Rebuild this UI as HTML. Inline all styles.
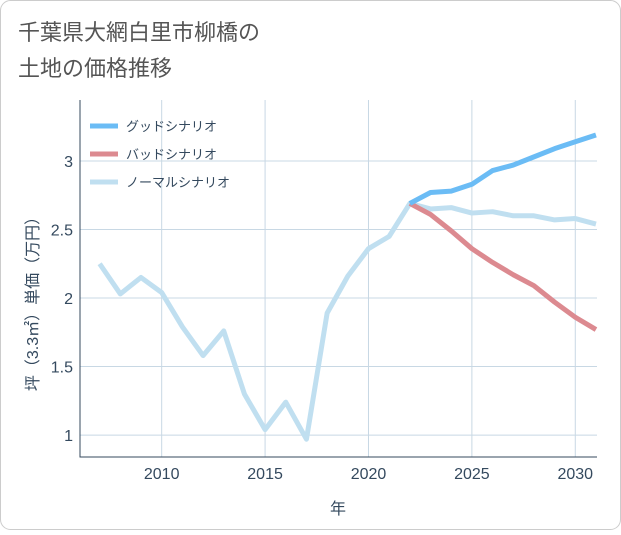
<!DOCTYPE html>
<html><head><meta charset="utf-8">
<style>
body{margin:0;background:#fff;}
#wrap{position:relative;width:621px;height:530px;font-family:"Liberation Sans","Noto Sans CJK JP",sans-serif;}
</style></head>
<body>
<div id="wrap">
<svg id="chart" width="621" height="530" xmlns="http://www.w3.org/2000/svg">
<rect x="0.5" y="0.5" width="620" height="529" rx="10" fill="#fff" stroke="#ccc"/>
<text x="18" y="40" font-size="22" fill="#555">千葉県大網白里市柳橋の</text>
<text x="18" y="76" font-size="22" fill="#555">土地の価格推移</text>
<g id="grid"></g>
<g id="series"></g>
<g id="legend"></g>
<text x="338" y="514" font-size="16" fill="#34495e" text-anchor="middle">年</text>
<text transform="translate(38,300) rotate(-90)" font-size="16" fill="#34495e" text-anchor="middle">坪（3.3㎡）単価（万円）</text>
</svg>
</div>
<script>
const years=[2007,2008,2009,2010,2011,2012,2013,2014,2015,2016,2017,2018,2019,2020,2021,2022,2023,2024,2025,2026,2027,2028,2029,2030,2031];
const normalValues=[2.25,2.03,2.15,2.04,1.79,1.58,1.76,1.30,1.04,1.24,0.97,1.89,2.16,2.36,2.45,2.69,2.65,2.66,2.62,2.63,2.60,2.60,2.57,2.58,2.54];
const futureYears=[2022,2023,2024,2025,2026,2027,2028,2029,2030,2031];
const goodValues=[2.69,2.77,2.78,2.83,2.93,2.97,3.03,3.09,3.14,3.19];
const badValues=[2.69,2.61,2.49,2.36,2.26,2.17,2.09,1.97,1.86,1.77];
const xTicks=[2010,2015,2020,2025,2030];
const yTicks=[1,1.5,2,2.5,3];
const yTickLabels=["1","1.5","2","2.5","3"];
const legendLabels=["グッドシナリオ","バッドシナリオ","ノーマルシナリオ"];

const L=80,R=597,T=100,B=457;
const x=v=>L+(v-2006.05)/(25)*(R-L);
const y=v=>T+(3.445-v)/(3.445-0.84)*(B-T);
const NS="http://www.w3.org/2000/svg";
function mk(tag,attrs,parent){const e=document.createElementNS(NS,tag);for(const k in attrs)e.setAttribute(k,attrs[k]);parent.appendChild(e);return e;}
const grid=document.getElementById('grid');
xTicks.forEach(t=>{
 const l=mk('line',{x1:x(t),x2:x(t),y1:T,y2:B,stroke:'#c8d8e4','stroke-width':1},grid);
 
 
 const tx=mk('text',{x:x(t),y:B+22,'font-size':16,fill:'#34495e','text-anchor':'middle'},grid);
 tx.textContent=t;
 
 
});
yTicks.forEach((t,i)=>{
 const l=mk('line',{x1:L,x2:R,y1:y(t),y2:y(t),stroke:'#c8d8e4','stroke-width':1},grid);
 
 
 const tx=mk('text',{x:L-7,y:y(t)+6,'font-size':16,fill:'#34495e','text-anchor':'end'},grid);
 tx.textContent=yTickLabels[i];
 
 
});
const ax=mk('path',{d:`M${L} ${T} V${B} H${R}`,fill:'none',stroke:'#34495e','stroke-width':1},grid);


const S=document.getElementById('series');
function line(xs,vs,color,name){
 const p=mk('polyline',{points:xs.map((t,i)=>x(t)+','+y(vs[i])).join(' '),fill:'none',stroke:color,'stroke-width':5,'stroke-linejoin':'round'},S);
 
 
}
line(years,normalValues,'#c0dff0','normal-scenario-line');
line(futureYears,badValues,'#dc8a90','bad-scenario-line');
line(futureYears,goodValues,'#6bbcf5','good-scenario-line');
const colors=['#6bbcf5','#dc8a90','#c0dff0'];
const lg=document.getElementById('legend');
legendLabels.forEach((lab,i)=>{
 const yy=126+i*28;
 const l=mk('line',{x1:90,x2:118,y1:yy,y2:yy,stroke:colors[i],'stroke-width':5},lg);
 
 
 const t=mk('text',{x:126,y:yy+5,'font-size':13,fill:'#34495e'},lg);
 t.textContent=lab;
 
 
});
</script>
</body></html>
